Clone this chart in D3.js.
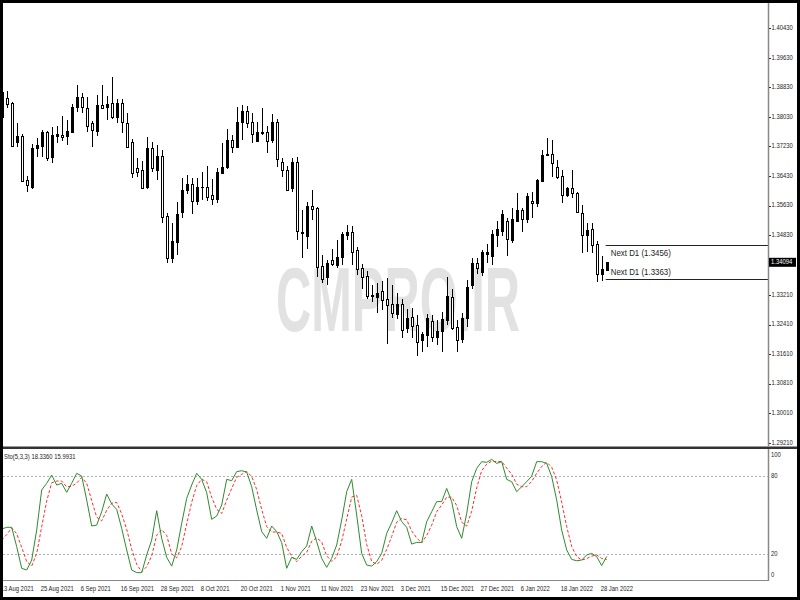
<!DOCTYPE html>
<html><head><meta charset="utf-8">
<script src="https://cdn.jsdelivr.net/npm/d3@7"></script>
<style>html,body{margin:0;padding:0;background:#fff;} svg{display:block}</style>
</head><body>
<svg id="c" width="800" height="600"></svg>
<script>
// ---- data ----
const open = [
1.3804,1.3853,1.3840,1.3736,1.3751,1.3632,1.3614,1.3718,1.3724,1.3763,
1.3694,1.3752,1.3754,1.3751,1.3763,1.3831,1.3858,1.3826,1.3786,1.3766,
1.3835,1.3831,1.3840,1.3804,1.3840,1.3787,1.3736,1.3664,1.3658,1.3612,
1.3718,1.3658,1.3697,1.3535,1.3420,1.3465,1.3546,1.3605,1.3621,1.3576,
1.3614,1.3614,1.3591,1.3582,1.3652,1.3667,1.3741,1.3722,1.3790,1.3820,
1.3790,1.3738,1.3763,1.3763,1.3741,1.3790,1.3682,1.3659,1.3610,1.3682,
1.3492,1.3481,1.3562,1.3556,1.3399,1.3369,1.3416,1.3402,1.3424,1.3483,
1.3492,1.3443,1.3393,1.3372,1.3322,1.3315,1.3333,1.3309,1.3297,1.3269,
1.3297,1.3231,1.3261,1.3240,1.3199,1.3213,1.3251,1.3208,1.3223,1.3253,
1.3316,1.3235,1.3201,1.3258,1.3348,1.3408,1.3384,1.3433,1.3426,1.3483,
1.3495,1.3522,1.3470,1.3522,1.3551,1.3526,1.3576,1.3571,1.3630,1.3700,
1.3703,1.3667,1.3643,1.3592,1.3610,1.3598,1.3544,1.3483,1.3499,1.3460,
1.3378,1.3389];
const high = [
1.3881,1.3874,1.3844,1.3786,1.3756,1.3643,1.3730,1.3745,1.3768,1.3766,
1.3777,1.3778,1.3806,1.3795,1.3838,1.3889,1.3869,1.3856,1.3793,1.3862,
1.3889,1.3860,1.3912,1.3851,1.3851,1.3813,1.3742,1.3691,1.3685,1.3749,
1.3736,1.3727,1.3713,1.3542,1.3517,1.3574,1.3637,1.3646,1.3637,1.3637,
1.3655,1.3670,1.3634,1.3664,1.3732,1.3770,1.3754,1.3831,1.3835,1.3833,
1.3814,1.3790,1.3826,1.3778,1.3811,1.3797,1.3691,1.3670,1.3691,1.3695,
1.3551,1.3574,1.3605,1.3560,1.3429,1.3416,1.3445,1.3470,1.3492,1.3510,
1.3508,1.3450,1.3405,1.3387,1.3348,1.3353,1.3360,1.3366,1.3348,1.3327,
1.3309,1.3282,1.3285,1.3267,1.3221,1.3269,1.3267,1.3253,1.3276,1.3370,
1.3336,1.3253,1.3271,1.3362,1.3420,1.3420,1.3443,1.3459,1.3497,1.3521,
1.3551,1.3529,1.3556,1.3596,1.3556,1.3596,1.3601,1.3634,1.3713,1.3745,
1.3741,1.3686,1.3659,1.3614,1.3659,1.3601,1.3565,1.3517,1.3517,1.3467,
1.3426,1.3411];
const low = [
1.3795,1.3826,1.3721,1.3721,1.3628,1.3601,1.3607,1.3694,1.3694,1.3685,
1.3677,1.3732,1.3739,1.3727,1.3759,1.3817,1.3814,1.3763,1.3722,1.3751,
1.3824,1.3795,1.3797,1.3786,1.3759,1.3721,1.3637,1.3640,1.3607,1.3607,
1.3655,1.3632,1.3517,1.3407,1.3408,1.3429,1.3529,1.3594,1.3540,1.3565,
1.3578,1.3576,1.3565,1.3571,1.3650,1.3661,1.3706,1.3718,1.3741,1.3772,
1.3733,1.3736,1.3754,1.3706,1.3732,1.3667,1.3640,1.3603,1.3601,1.3470,
1.3422,1.3445,1.3524,1.3370,1.3353,1.3348,1.3399,1.3394,1.3402,1.3470,
1.3402,1.3375,1.3336,1.3309,1.3303,1.3273,1.3280,1.3188,1.3258,1.3255,
1.3204,1.3217,1.3204,1.3156,1.3167,1.3181,1.3194,1.3186,1.3167,1.3240,
1.3226,1.3167,1.3192,1.3235,1.3336,1.3378,1.3372,1.3407,1.3402,1.3451,
1.3481,1.3426,1.3461,1.3519,1.3492,1.3517,1.3529,1.3558,1.3628,1.3697,
1.3641,1.3634,1.3571,1.3587,1.3583,1.3542,1.3434,1.3438,1.3434,1.3355,
1.3360,1.3387];
const close = [
1.3871,1.3837,1.3724,1.3751,1.3630,1.3619,1.3718,1.3727,1.3763,1.3691,
1.3754,1.3757,1.3750,1.3766,1.3831,1.3858,1.3831,1.3778,1.3768,1.3835,
1.3826,1.3838,1.3804,1.3840,1.3790,1.3722,1.3652,1.3655,1.3610,1.3718,
1.3664,1.3697,1.3531,1.3420,1.3468,1.3540,1.3605,1.3621,1.3576,1.3614,
1.3612,1.3585,1.3582,1.3655,1.3668,1.3741,1.3722,1.3790,1.3820,1.3786,
1.3757,1.3763,1.3760,1.3738,1.3790,1.3688,1.3658,1.3605,1.3682,1.3495,
1.3489,1.3562,1.3553,1.3396,1.3363,1.3408,1.3405,1.3425,1.3486,1.3492,
1.3438,1.3390,1.3370,1.3318,1.3319,1.3327,1.3307,1.3294,1.3271,1.3297,
1.3226,1.3258,1.3237,1.3194,1.3215,1.3258,1.3208,1.3224,1.3256,1.3317,
1.3231,1.3200,1.3258,1.3342,1.3407,1.3393,1.3438,1.3436,1.3486,1.3499,
1.3540,1.3472,1.3526,1.3551,1.3526,1.3589,1.3569,1.3632,1.3700,1.3703,
1.3678,1.3641,1.3592,1.3610,1.3596,1.3546,1.3483,1.3497,1.3456,1.3378,
1.3390,1.34094];
const stochMain = [
39.3,40.6,40.6,25.8,9.3,8.0,15.6,38.5,69.1,74.2,
80.5,72.9,74.2,67.3,74.2,81.8,79.7,61.4,41.6,42.3,
52.5,66.0,58.4,54.3,39.8,23.3,8.0,6.0,6.0,19.5,
30.9,53.3,32.2,17.7,11.0,23.3,43.6,62.7,72.9,81.8,
77.2,67.0,46.7,49.2,57.6,77.2,76.2,83.1,83.8,82.8,
71.6,53.8,37.3,32.2,41.6,37.3,28.9,9.3,17.7,16.1,
22.0,26.3,41.6,29.6,16.9,10.0,16.9,27.1,46.2,67.8,
77.2,50.0,20.7,11.8,11.0,14.4,20.7,36.0,44.1,53.3,
44.9,40.6,27.8,29.1,29.1,44.9,52.5,60.2,60.2,70.3,
60.2,41.1,32.2,51.2,75.4,85.6,90.7,90.2,92.5,89.4,
90.7,77.2,75.4,67.8,71.6,75.4,79.7,90.7,90.7,89.4,
79.3,61.4,38.5,23.3,16.1,15.1,15.6,19.5,20.7,18.2,
11.4,18.336];
const stochSignal = [
30.9,35.0,40.2,35.7,25.2,14.4,11.0,20.7,41.1,60.6,
74.6,75.9,75.9,71.5,71.9,74.4,78.6,74.3,60.9,48.4,
45.5,53.6,59.0,59.6,50.8,39.1,23.7,12.4,6.7,10.5,
18.8,34.6,38.8,34.4,20.3,17.3,26.0,43.2,59.7,72.5,
77.3,75.3,63.6,54.3,51.2,61.3,70.3,78.8,81.0,83.2,
79.4,69.4,54.2,41.1,37.0,37.0,35.9,25.2,18.6,14.4,
18.6,21.5,30.0,32.5,29.4,18.8,14.6,18.0,30.1,47.0,
63.7,65.0,49.3,27.5,14.5,12.4,15.4,23.7,33.6,44.5,
47.4,46.3,37.8,32.5,28.7,34.4,42.2,52.5,57.6,63.6,
63.6,57.2,44.5,41.5,52.9,70.7,83.9,88.8,91.1,90.7,
90.9,85.8,81.1,73.5,71.6,71.6,75.6,81.9,87.0,90.3,
86.5,76.7,59.7,41.1,26.0,18.2,15.6,16.7,18.6,19.5,
16.8,15.9931];
const priceTicks = [1.29210,1.30010,1.30810,1.31610,1.32410,1.33210,1.34830,1.35630,1.36430,1.37230,1.38030,1.38830,1.39630,1.40430];
const stochTicks = [0,20,80,100];
const stochLevels = [20,80];
const stochHeader = "Sto(5,3,3) 18.3360 15.9931";
const lastPrice = 1.34094;
const nextD1 = [1.3456, 1.3363];
const watermark = "CMPRO.IR";
const firstDay = new Date(2021,7,13), lastDay = new Date(2022,0,31);

// ---- build ----
const days = d3.timeDay.range(firstDay, d3.timeDay.offset(lastDay,1))
  .filter(d => d.getDay() !== 0 && d.getDay() !== 6);
const fmtKey = d3.timeFormat("%Y-%m-%d");
const fmtLbl = d3.timeFormat("%-d %b %Y");
const keys = days.map(fmtKey);
const bars = keys.map((k,i)=>({k, o:open[i], h:high[i], l:low[i], c:close[i]}));

const svg = d3.select("#c");
const FONT = "'Liberation Sans', Arial, sans-serif";
const axisX = 768;

const x = d3.scalePoint().domain(keys).range([1.7, 606.7]);
const y = d3.scaleLinear().domain([1.29210, 1.40430]).range([442.7, 28.3]);
const ys = d3.scaleLinear().domain([0,100]).range([580.5, 449.5]);

// small condensed label helper (horizontal squeeze like the terminal font)
function label(parent, tx, ty, str, size, fill, sx){
  const g = parent.append("g").attr("transform",`translate(${tx},${ty}) scale(${sx||0.84},1)`);
  return g.append("text").attr("x",0).attr("y",0).attr("dominant-baseline","middle")
    .attr("font-family",FONT).attr("font-size",size).attr("fill",fill||"#222").text(str);
}

svg.append("rect").attr("width",800).attr("height",600).attr("fill","#fff");

const defs = svg.append("defs");
defs.append("clipPath").attr("id","mainClip").append("rect").attr("x",3).attr("y",3).attr("width",axisX-3).attr("height",443);
defs.append("clipPath").attr("id","stClip").append("rect").attr("x",3).attr("y",450).attr("width",axisX-3).attr("height",130);

// watermark (condensed by a horizontal scale)
const wmG = svg.append("g");
const wm = wmG.append("text").attr("x",0).attr("y",0)
  .attr("font-family",FONT).attr("font-weight","bold").attr("font-size",90)
  .attr("fill","#e2e2e2").text(watermark);
const wmW = wm.node().getComputedTextLength();
wmG.attr("transform",`translate(276,331) scale(${244/wmW},1)`);

// candles
const gC = svg.append("g").attr("clip-path","url(#mainClip)").attr("shape-rendering","crispEdges");
const cg = gC.selectAll("g.c").data(bars).join("g").attr("class","c");
cg.append("line")
  .attr("x1",d=>Math.round(x(d.k))+0.5).attr("x2",d=>Math.round(x(d.k))+0.5)
  .attr("y1",d=>y(d.h)).attr("y2",d=>y(d.l)).attr("stroke","#000").attr("stroke-width",1);
cg.append("rect")
  .attr("x",d=>Math.round(x(d.k))-0.5).attr("width",2)
  .attr("y",d=>Math.round(y(Math.max(d.o,d.c)))+0.5)
  .attr("height",d=>Math.max(0.01, Math.round(y(Math.min(d.o,d.c)))-Math.round(y(Math.max(d.o,d.c)))))
  .attr("fill",d=>d.c>=d.o?"#000":"#fff").attr("stroke","#000").attr("stroke-width",1);

// Next D1 lines
const xN0 = x(keys[keys.length-1]) - 1;
nextD1.forEach((p,i)=>{
  const yy = Math.round(y(p))+0.5;
  svg.append("line").attr("x1",xN0).attr("x2",axisX).attr("y1",yy).attr("y2",yy)
    .attr("stroke","#222").attr("stroke-width",1);
  label(svg, xN0+5, i===0? yy+8.5 : yy-6.5, `Next D1 (${d3.format(".4f")(p)})`, 8.6, "#222", 0.92);
});

// right axis (price)
svg.append("line").attr("x1",axisX+0.5).attr("x2",axisX+0.5).attr("y1",3).attr("y2",580.5)
  .attr("stroke","#888").attr("stroke-width",1.5);
const pt = svg.append("g");
priceTicks.forEach(p=>{
  const yy = y(p);
  pt.append("line").attr("x1",axisX+1).attr("x2",axisX+3).attr("y1",Math.round(yy)+0.5).attr("y2",Math.round(yy)+0.5).attr("stroke","#333");
  label(pt, axisX+3.5, yy, d3.format(".5f")(p), 7, "#222");
});
// last price box
const yl = y(lastPrice);
svg.append("rect").attr("x",axisX+1).attr("y",yl-4.5).attr("width",27).attr("height",9).attr("fill","#000");
label(svg, axisX+3, yl, d3.format(".5f")(lastPrice), 7, "#fff");

// separator between panels
svg.append("rect").attr("x",3).attr("y",446).attr("width",794).attr("height",1).attr("fill","#999");
svg.append("rect").attr("x",3).attr("y",447).attr("width",794).attr("height",2).attr("fill","#333");

// stochastic panel
const gS = svg.append("g").attr("clip-path","url(#stClip)");
stochLevels.forEach(v=>{
  gS.append("line").attr("x1",3).attr("x2",axisX).attr("y1",Math.round(ys(v))+0.5).attr("y2",Math.round(ys(v))+0.5)
    .attr("stroke","#b0b0b0").attr("stroke-width",1).attr("stroke-dasharray","2,2");
});
const lineSt = d3.line().x((d,i)=>x(keys[i])).y(d=>ys(d));
gS.append("path").attr("d",lineSt(stochSignal)).attr("fill","none").attr("stroke","#ff2a2a")
  .attr("stroke-width",1).attr("stroke-dasharray","3,2");
gS.append("path").attr("d",lineSt(stochMain)).attr("fill","none").attr("stroke","#2e8b2e")
  .attr("stroke-width",1);
label(svg, 4, 457.5, stochHeader, 7, "#222");
stochTicks.forEach(v=>{
  const yy = Math.max(455, Math.min(575, ys(v)));
  label(svg, axisX+3, yy, String(v), 7, "#222");
});
svg.append("line").attr("x1",3).attr("x2",axisX+1).attr("y1",580.5).attr("y2",580.5).attr("stroke","#888").attr("stroke-width",1);

// time axis labels
keys.forEach((k,i)=>{
  if(i % 8 !== 0) return;
  label(svg, x(k)-1, 589.5, fmtLbl(days[i]), 7, "#222");
});

// outer black frame
[[0,0,800,3],[0,0,3,600],[797,0,3,600],[0,597,800,3]].forEach(r=>
  svg.append("rect").attr("x",r[0]).attr("y",r[1]).attr("width",r[2]).attr("height",r[3]).attr("fill","#000"));
</script>
</body></html>
